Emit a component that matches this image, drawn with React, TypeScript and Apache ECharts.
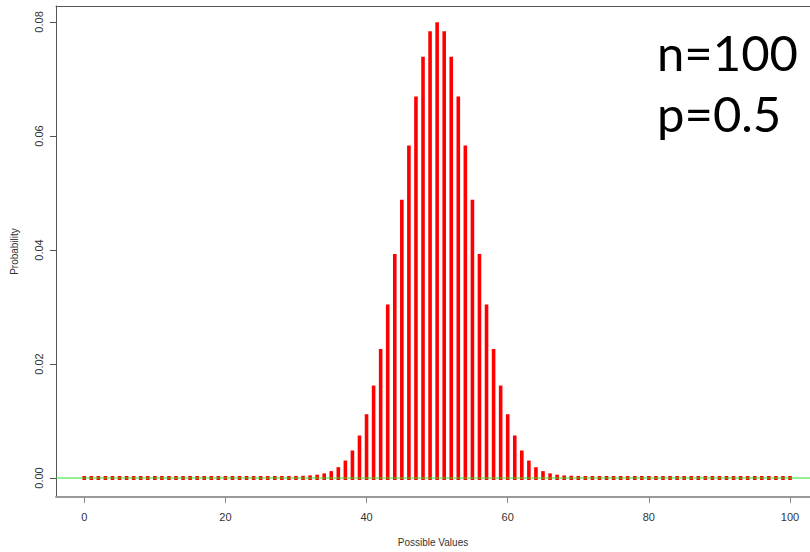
import React, { useEffect, useRef } from "react";
import * as echarts from "echarts";

const possibleValues: number[] = Array.from({ length: 101 }, (_, i) => i);
const probabilities: number[] = [
  0, 0, 0, 0, 0, 0, 0, 0, 0, 0,
  0, 0, 0, 0, 0, 0, 0, 0, 0, 0,
  0, 0, 0, 0, 0, 0, 0, 0, 0, 0,
  0.00002, 0.00005, 0.00011, 0.00023, 0.00046, 0.00086, 0.00155, 0.00271, 0.00448, 0.00711,
  0.01084, 0.01587, 0.02229, 0.03007, 0.03895, 0.04847, 0.05796, 0.06659, 0.07353, 0.07802,
  0.07959,
  0.07802, 0.07353, 0.06659, 0.05796, 0.04847, 0.03895, 0.03007, 0.02229, 0.01587, 0.01084,
  0.00711, 0.00448, 0.00271, 0.00155, 0.00086, 0.00046, 0.00023, 0.00011, 0.00005, 0.00002,
  0, 0, 0, 0, 0, 0, 0, 0, 0, 0,
  0, 0, 0, 0, 0, 0, 0, 0, 0, 0,
  0, 0, 0, 0, 0, 0, 0, 0, 0, 0,
];
const xTicks: number[] = [0, 20, 40, 60, 80, 100];
const yTicks: number[] = [0, 0.02, 0.04, 0.06, 0.08];
const annotationLines: string[] = ["n=100", "p=0.5"];
const xMin = -4;
const xMax = 102.83;

export default function App() {
  const ref = useRef<HTMLDivElement>(null);
  useEffect(() => {
    if (!ref.current) return;
    const chart = echarts.init(ref.current, undefined, { renderer: "svg" });
    const data = possibleValues.map((x, i) => [x, probabilities[i]]);
    chart.setOption({
      animation: false,
      backgroundColor: "#ffffff",
      grid: { left: 56, top: 6, right: 0, bottom: 55, containLabel: false, outerBoundsMode: "none" },
      xAxis: [
        {
          type: "value",
          min: xMin,
          max: xMax,
          name: "Possible Values",
          nameLocation: "middle",
          nameGap: 40,
          nameTextStyle: { color: "#333", fontSize: 10, fontFamily: "Liberation Sans" },
          splitLine: { show: false },
          axisLine: { show: true, onZero: false, lineStyle: { color: "#9a9a9a", width: 2 } },
          axisTick: { show: true, length: 6, customValues: xTicks, lineStyle: { color: "#888" } },
          axisLabel: {
            customValues: xTicks,
            margin: 14,
            color: "#333",
            fontSize: 11,
            fontFamily: "Liberation Sans",
          },
        },
        {
          type: "value",
          position: "top",
          min: xMin,
          max: xMax,
          splitLine: { show: false },
          axisLine: { show: true, onZero: false, lineStyle: { color: "#555", width: 1 } },
          axisTick: { show: false },
          axisLabel: { show: false },
        },
      ],
      yAxis: {
        type: "value",
        min: -0.00333,
        max: 0.0828,
        name: "Probability",
        nameLocation: "middle",
        nameGap: 37,
        nameTextStyle: { color: "#333", fontSize: 10, fontFamily: "Liberation Sans" },
        splitLine: { show: false },
        axisLine: { show: true, onZero: false, lineStyle: { color: "#555", width: 1 } },
        axisTick: { show: true, length: 6, customValues: yTicks, lineStyle: { color: "#555" } },
        axisLabel: {
          customValues: yTicks,
          rotate: 90,
          margin: 12,
          color: "#333",
          fontSize: 11,
          fontFamily: "Liberation Sans",
          formatter: (v: number) => v.toFixed(2),
        },
      },
      graphic: annotationLines.map((t, i) => ({
        type: "text",
        left: 657,
        top: 27 + i * 61,
        style: {
          text: t,
          font: "49px Lato",
          fill: "#000",
        },
      })),
      series: [
        {
          type: "custom",
          xAxisIndex: 0,
          data,
          renderItem: (params: any, api: any) => {
            const x = api.value(0);
            const y = api.value(1);
            const p0 = api.coord([x, 0]);
            const p1 = api.coord([x, y]);
            return {
              type: "line",
              shape: { x1: p0[0], y1: p0[1] + 2, x2: p1[0], y2: p1[1] - 2 },
              style: { stroke: "#ff0000", lineWidth: 3.6, lineCap: "butt" },
            };
          },
          z: 2,
        },
        {
          type: "line",
          xAxisIndex: 0,
          data: [[xMin, 0], [xMax, 0]],
          symbol: "none",
          silent: true,
          lineStyle: { color: "#2ee02e", width: 1 },
          z: 3,
        },
      ],
    });
    return () => chart.dispose();
  }, []);
  return (
    <div
      ref={ref}
      style={{ position: "fixed", left: 0, top: 0, width: 810, height: 552 }}
    />
  );
}
